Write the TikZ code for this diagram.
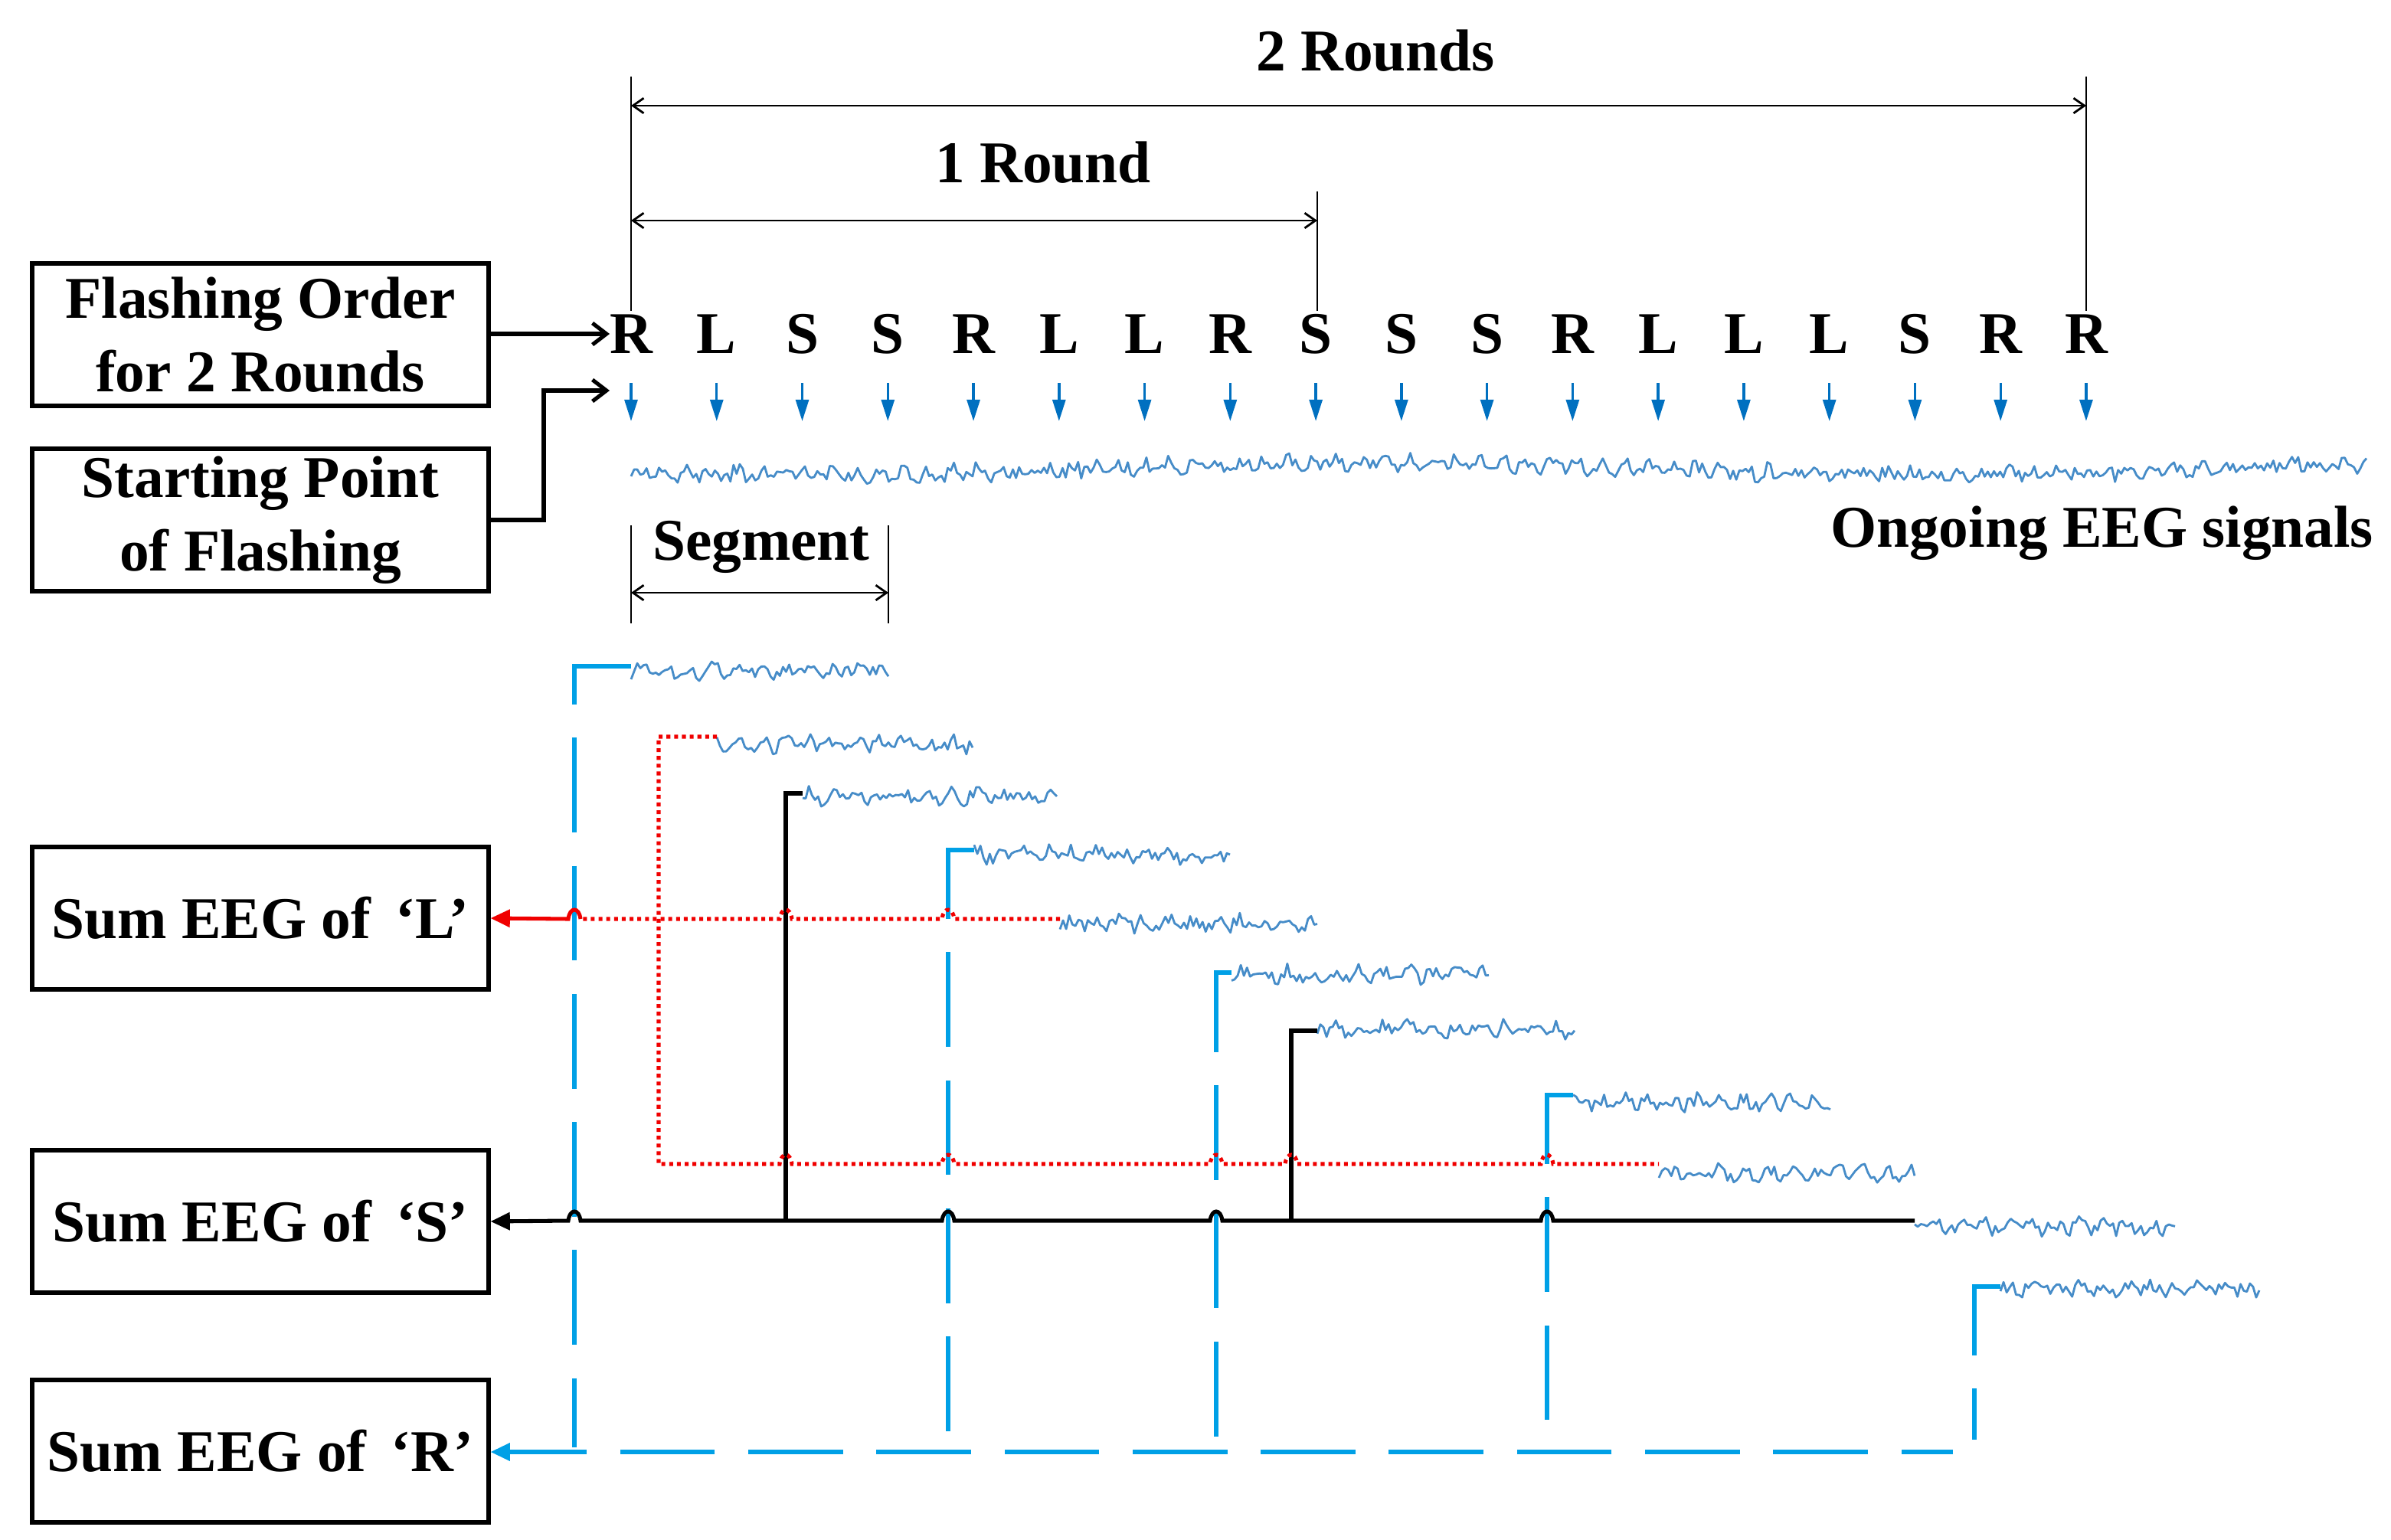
\documentclass[tikz,border=0pt]{standalone}
\usepackage{fontspec}
\setmainfont{Liberation Serif}
\usetikzlibrary{arrows.meta}
\definecolor{eegc}{RGB}{70,140,200}
\definecolor{arrb}{RGB}{0,112,192}
\definecolor{rblue}{RGB}{0,160,230}
\definecolor{lred}{RGB}{240,0,0}
\tikzset{
  big/.style={font=\fontsize{55}{68}\selectfont\bfseries},
  box/.style={draw,line width=3.6pt,minimum width=14.9cm,minimum height=4.65cm,align=center,big,inner sep=0pt},
  let/.style={big,inner sep=0pt,anchor=center},
  flash/.style={arrb,line width=2.4pt,-{Triangle[length=20pt,width=12pt]}},
  eeg/.style={eegc,line width=2pt,line join=round},
  dim/.style={line width=2pt,{Straight Barb[length=10pt,width=14pt]}-{Straight Barb[length=10pt,width=14pt]}},
  tick/.style={line width=2pt},
  conn/.style={line width=3.6pt,-{Straight Barb[length=13pt,width=20pt]}},
  Rl/.style={rblue,line width=3.8pt,dash pattern=on 88pt off 31pt},
  Ll/.style={lred,line width=3.6pt,dash pattern=on 3.6pt off 3.6pt},
  Sl/.style={black,line width=3.6pt},
  tip/.style={-{Triangle[length=18pt,width=16pt]}},
}
\newcommand\eegtrace[3]{\draw[eeg] plot[domain=#1:#2,samples={int((#2-#1)/2)}] (\x,{#3+4.5*rand+2.5*sin(23*mod(\x,360))});}
\begin{document}
\begin{tikzpicture}[x=0.05cm,y=-0.05cm]
\useasboundingbox (0,0) rectangle (1561,1005.5);
\pgfmathsetseed{7}
% boxes
\node[box] (bf) at (170,218.5) {Flashing Order\\for 2 Rounds};
\node[box] (bs) at (170,339.5) {Starting Point\\of Flashing};
\node[box] (bl) at (170,599.5) {Sum EEG of \,‘L’};
\node[box] (bsS) at (170,797.5) {Sum EEG of \,‘S’};
\node[box] (br) at (170,947.5) {Sum EEG of \,‘R’};
% letters
\foreach \c [count=\i] in {R,L,S,S,R,L,L,R,S,S,S,R,L,L,L,S,R,R}{
  \pgfmathsetmacro\xx{412+(\i-1)*55.88}
  \node[let] (l\i) at (\xx,218) {\c};
  \coordinate (a\i) at (\xx,250);
  \coordinate (b\i) at (\xx,275);
  \draw[flash] (a\i) -- (b\i);
}
% rounds
\coordinate (t1) at (412,50); \coordinate (t1b) at (412,203);
\coordinate (t2) at (1362,50); \coordinate (t2b) at (1362,203);
\coordinate (t3) at (860,125); \coordinate (t3b) at (860,203);
\draw[tick] (t1)--(t1b) (t2)--(t2b) (t3)--(t3b);
\draw[dim] (412,69) -- (1362,69);
\draw[dim] (412,144) -- (860,144);
\node[big] (r2) at (898,33) {2 Rounds};
\node[big] (r1) at (681,106) {1 Round};
% input arrows
\coordinate (fa) at (398,218);
\draw[conn] (bf.east |- fa) -- (fa);
\coordinate (sa) at (398,255);
\draw[conn] (bs.east) -| (355,255) -- (sa);
% ongoing EEG
\draw[eeg] plot[domain=412:1545,samples=560] (\x,{306+4.5*rand+2.5*sin(23*mod(\x,360))-4*sin(\x*0.5)});
\node[big,anchor=east] (og) at (1552,348) {Ongoing EEG signals};
% segment
\coordinate (g1) at (412,343); \coordinate (g1b) at (412,407);
\coordinate (g2) at (580,343); \coordinate (g2b) at (580,407);
\draw[tick] (g1)--(g1b) (g2)--(g2b);
\draw[dim] (412,387) -- (580,387);
\node[big] (seg) at (497,357) {Segment};
% segments traces
\eegtrace{412}{580}{438}
\eegtrace{468}{635}{486}
\eegtrace{524}{690}{520}
\eegtrace{636}{803}{558}
\eegtrace{692}{860}{603}
\eegtrace{804}{972}{636}
\eegtrace{860}{1028}{672}
\eegtrace{1027}{1195}{720}
\eegtrace{1083}{1250}{766}
\eegtrace{1250}{1420}{801}
\eegtrace{1306}{1475}{842}
% R connectors (blue dashed)
\draw[Rl] (412,435) -- (375,435) -- (375,945);
\draw[Rl] (636,555) -- (619,555) -- (619,945);
\draw[Rl] (804,635) -- (794,635) -- (794,945);
\draw[Rl] (1027,715) -- (1010,715) -- (1010,945);
\draw[Rl] (1306,840) -- (1289,840) -- (1289,940);
\coordinate (rs) at (1275,948);
\draw[Rl,dash phase=40pt,tip] (rs) -- (br.east |- rs);
% S connectors (black)
\draw[Sl] (524,518) -- (513,518) -- (513,797);
\draw[Sl] (860,673) -- (843,673) -- (843,797);
\draw[Sl,tip] (1250,797) -- (1014,797) .. controls (1013,789) and (1007,789) .. (1006,797)
  -- (798,797) .. controls (797,789) and (791,789) .. (790,797)
  -- (623,797) .. controls (622,789) and (616,789) .. (615,797)
  -- (379,797) .. controls (378,789) and (372,789) .. (371,797)
  -- (bsS.east);
% L connectors (red dotted)
\draw[Ll] (468,481) -- (430,481) -- (430,760) -- (509,760) .. controls (510,752) and (516,752) .. (517,760)
  -- (615,760) .. controls (616,752) and (622,752) .. (623,760)
  -- (790,760) .. controls (791,752) and (797,752) .. (798,760)
  -- (839,760) .. controls (840,752) and (846,752) .. (847,760)
  -- (1006,760) .. controls (1007,752) and (1013,752) .. (1014,760)
  -- (1083,760);
\draw[Ll] (692,600) -- (623,600) .. controls (622,592) and (616,592) .. (615,600)
  -- (517,600) .. controls (516,592) and (510,592) .. (509,600)
  -- (379,600);
\draw[lred,line width=3.6pt,tip] (379,600) .. controls (378,592) and (372,592) .. (371,600) -- (bl.east);
\end{tikzpicture}
\end{document}
